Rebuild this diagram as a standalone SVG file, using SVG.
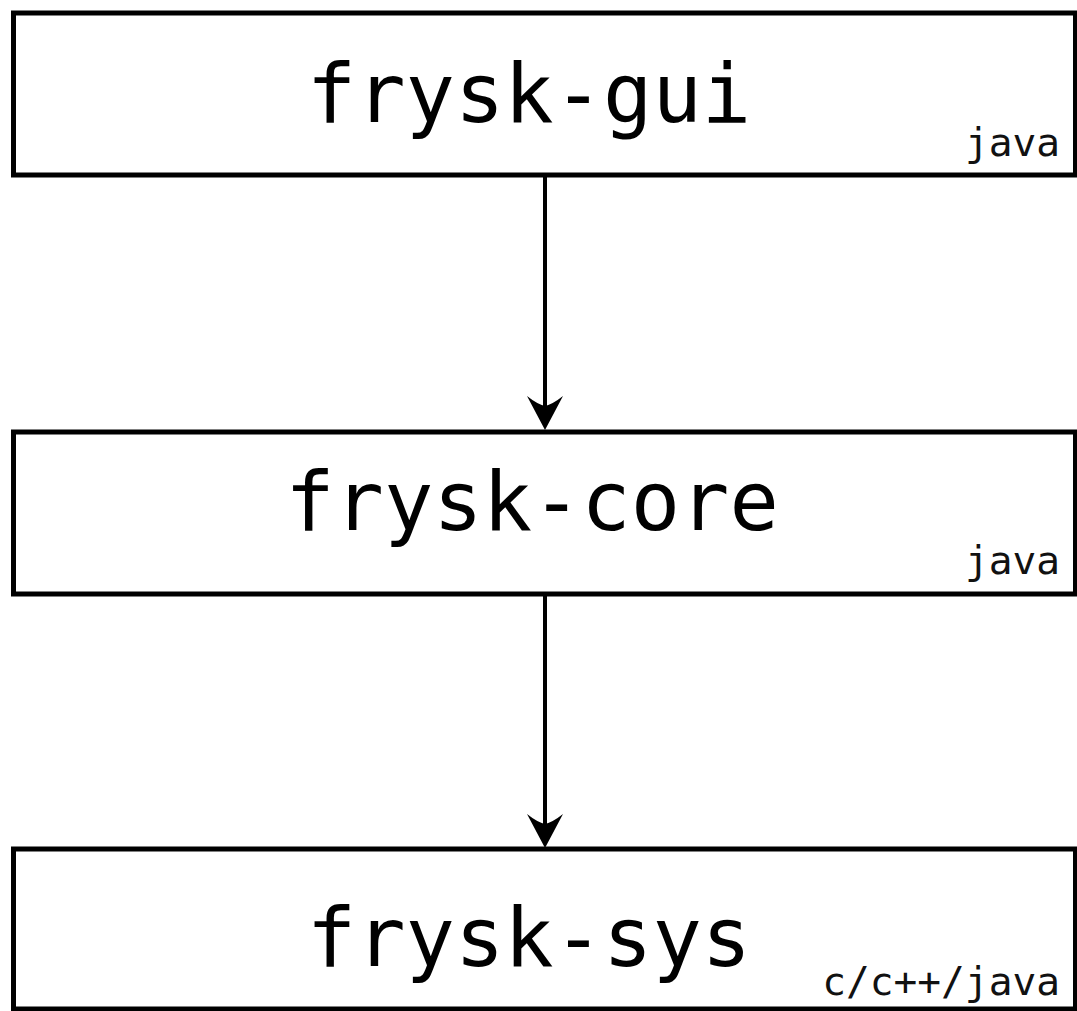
<svg xmlns="http://www.w3.org/2000/svg" width="1077" height="1011" viewBox="0 0 1077 1011">
<style>
.box{fill:#fff;stroke:#000;stroke-width:5}
.big{font-family:"DejaVu Sans Mono",monospace;font-size:82px;fill:#000;text-anchor:middle}
.small{font-family:"DejaVu Sans Mono",monospace;font-size:39.5px;fill:#111;text-anchor:end}
.conn{stroke:#000;stroke-width:4;fill:none}
.head{fill:#000}
</style>
<rect width="1077" height="1011" fill="#fff"/>
<g id="frysk-gui">
<rect class="box" x="13.5" y="13" width="1062" height="162"/>
<text class="big" x="529" y="122">frysk-gui</text>
<text class="small" x="1060" y="156">java</text>
</g>
<g id="frysk-core">
<rect class="box" x="13.5" y="432" width="1062" height="162"/>
<text class="big" x="532" y="530">frysk-core</text>
<text class="small" x="1060" y="574">java</text>
</g>
<g id="frysk-sys">
<rect class="box" x="13.5" y="849" width="1062" height="160"/>
<text class="big" x="529" y="966">frysk-sys</text>
<text class="small" x="1060" y="995">c/c++/java</text>
</g>
<g id="connectors">
<line class="conn" x1="545" y1="175" x2="545" y2="410"/>
<path class="head" d="M545,430 L527,396 Q537,404 545,406 Q553,404 563,396 Z"/>
<line class="conn" x1="545" y1="594" x2="545" y2="828"/>
<path class="head" d="M545,848 L527,814 Q537,822 545,824 Q553,822 563,814 Z"/>
</g>
</svg>
